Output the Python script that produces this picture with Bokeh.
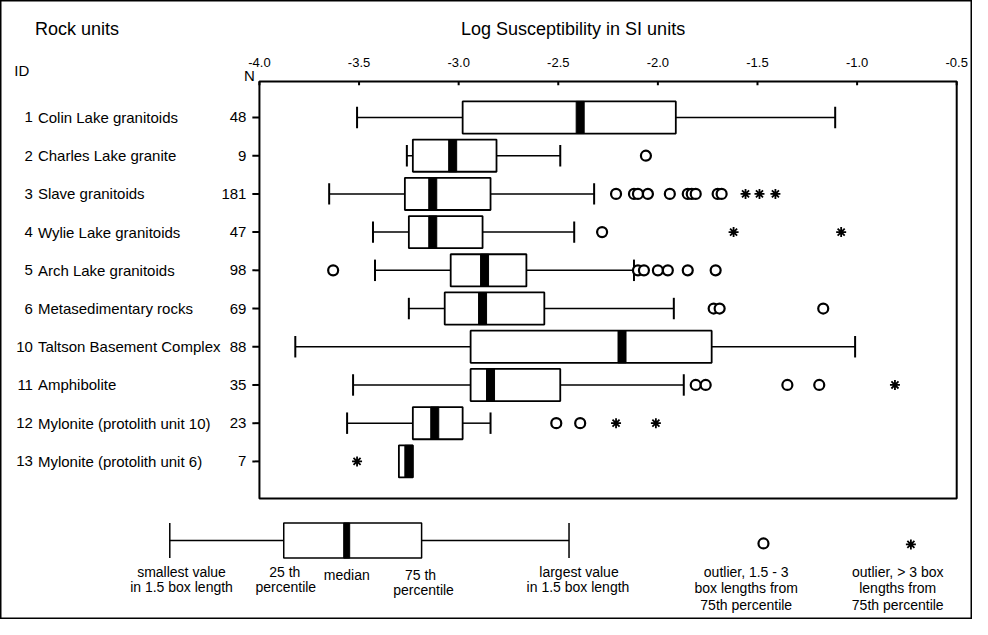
from bokeh.plotting import figure
from bokeh.models import Range1d
from bokeh.core.properties import value
from bokeh.embed import file_html
from bokeh.resources import INLINE

# ---------------- data ----------------
ids = ["1", "2", "3", "4", "5", "6", "10", "11", "12", "13"]
names = ["Colin Lake granitoids", "Charles Lake granite", "Slave granitoids",
         "Wylie Lake granitoids", "Arch Lake granitoids", "Metasedimentary rocks",
         "Taltson Basement Complex", "Amphibolite", "Mylonite (protolith unit 10)",
         "Mylonite (protolith unit 6)"]
n_counts = [48, 9, 181, 47, 98, 69, 88, 35, 23, 7]

whisk_lo = [-3.51, -3.26, -3.65, -3.43, -3.42, -3.25, -3.82, -3.53, -3.56, -3.30]
q1       = [-2.98, -3.23, -3.27, -3.25, -3.04, -3.07, -2.94, -2.94, -3.23, -3.30]
median   = [-2.39, -3.03, -3.13, -3.13, -2.87, -2.88, -2.18, -2.84, -3.12, -3.25]
q3       = [-1.91, -2.81, -2.84, -2.88, -2.66, -2.57, -1.73, -2.49, -2.98, -3.23]
whisk_hi = [-1.11, -2.49, -2.32, -2.42, -2.12, -1.92, -1.01, -1.87, -2.84, -3.23]

# outliers 1.5 - 3 box lengths (circles): row index, value
mild_row = [1,
            2, 2, 2, 2, 2, 2, 2, 2, 2, 2,
            3,
            4, 4, 4, 4, 4, 4, 4,
            5, 5, 5,
            7, 7, 7, 7,
            8, 8]
mild_val = [-2.06,
            -2.21, -2.12, -2.10, -2.05, -1.94, -1.85, -1.83, -1.81, -1.70, -1.68,
            -2.28,
            -3.63, -2.10, -2.07, -2.00, -1.95, -1.85, -1.71,
            -1.72, -1.69, -1.17,
            -1.81, -1.76, -1.35, -1.19,
            -2.51, -2.39]
# outliers > 3 box lengths (stars)
ext_row = [2, 2, 2, 3, 3, 7, 8, 8, 9]
ext_val = [-1.56, -1.49, -1.41, -1.62, -1.08, -0.81, -2.21, -2.01, -3.51]

x_ticks = [-4.0, -3.5, -3.0, -2.5, -2.0, -1.5, -1.0, -0.5]
x_tick_labels = ["-4.0", "-3.5", "-3.0", "-2.5", "-2.0", "-1.5", "-1.0", "-0.5"]

# legend key (schematic box, in axis units)
key_stats = [-4.45, -3.878, -3.562, -3.186, -2.446]   # lo, q1, median, q3, hi
key_mild = [-1.47]
key_ext = [-0.73]

# ---------------- layout helpers (reference pixels -> data) ----------------
REF_W, REF_H = 988, 635
PXU = 202.5      # reference pixels per log unit
X0 = 263.2       # reference x of -4.0
ROW0 = 120.0     # reference y of first row
ROWPX = 39.2     # reference pixels per row


def X(px):
    return -4.0 + (px - X0) / PXU


def Y(py):
    return (py - ROW0) / ROWPX


W, H = 972, 619
SY = H / REF_H
p = figure(width=W, height=H, output_backend="svg", toolbar_location=None,
           x_range=Range1d(X(0), X(REF_W)), y_range=Range1d(Y(REF_H), Y(0)),
           x_axis_location=None, y_axis_location=None, min_border=0)
p.grid.visible = False
p.outline_line_color = "black"
p.outline_line_width = 2
p.background_fill_color = "white"
p.border_fill_color = "white"

FONT = value("Liberation Sans")
rows = list(range(len(ids)))
BH = 16.5 / ROWPX   # half box height
CH = 11 / ROWPX     # half cap height

# plot frame
top_y, bot_y = Y(83), Y(511)
p.quad(left=[x_ticks[0]], right=[x_ticks[-1]], top=[top_y], bottom=[bot_y],
       fill_color=None, line_color="black", line_width=2)

# top axis ticks and labels
p.segment(x0=x_ticks, y0=[top_y] * len(x_ticks), x1=x_ticks,
          y1=[top_y + 4 / ROWPX] * len(x_ticks), line_color="black", line_width=2)
p.text(x=x_ticks, y=[Y(68)] * len(x_ticks), text=x_tick_labels, text_font=FONT,
       text_font_size="13px", text_align="center", text_baseline="bottom", text_color="black")

# left ticks + N
p.segment(x0=[X(256)] * len(rows), y0=rows, x1=[x_ticks[0]] * len(rows), y1=rows,
          line_color="black", line_width=2)
p.text(x=[X(250)] * len(rows), y=rows, text=[str(v) for v in n_counts], text_font=FONT,
       text_font_size="15px", text_align="right", text_baseline="middle", text_color="black")

# row labels
p.text(x=[X(33)] * len(rows), y=rows, text=ids, text_font=FONT, text_font_size="15px",
       text_align="right", text_baseline="middle", text_color="black")
p.text(x=[X(38)] * len(rows), y=rows, text=names, text_font=FONT, text_font_size="15px",
       text_align="left", text_baseline="middle", text_color="black")

# headings
p.text(x=[X(35)], y=[Y(29)], text=["Rock units"], text_font=FONT, text_font_size="18px",
       text_align="left", text_baseline="middle", text_color="black")
p.text(x=[X(582)], y=[Y(29)], text=["Log Susceptibility in SI units"], text_font=FONT,
       text_font_size="18px", text_align="center", text_baseline="middle", text_color="black")
p.text(x=[X(14)], y=[Y(72)], text=["ID"], text_font=FONT, text_font_size="15px",
       text_align="left", text_baseline="middle", text_color="black")
p.text(x=[X(253)], y=[Y(77)], text=["N"], text_font=FONT, text_font_size="15px",
       text_align="center", text_baseline="middle", text_color="black")

# whiskers
wr = [i for i in rows if whisk_lo[i] < q1[i]]
hr = [i for i in rows if whisk_hi[i] > q3[i]]
p.segment(x0=[whisk_lo[i] for i in wr], y0=wr, x1=[q1[i] for i in wr], y1=wr,
          line_color="black", line_width=1.5)
p.segment(x0=[whisk_lo[i] for i in wr], y0=[i - CH for i in wr],
          x1=[whisk_lo[i] for i in wr], y1=[i + CH for i in wr], line_color="black", line_width=2)
p.segment(x0=[q3[i] for i in hr], y0=hr, x1=[whisk_hi[i] for i in hr], y1=hr,
          line_color="black", line_width=1.5)
p.segment(x0=[whisk_hi[i] for i in hr], y0=[i - CH for i in hr],
          x1=[whisk_hi[i] for i in hr], y1=[i + CH for i in hr], line_color="black", line_width=2)

# boxes
p.quad(left=q1, right=q3, top=[i - BH for i in rows], bottom=[i + BH for i in rows],
       fill_color="white", line_color="black", line_width=1.8)
p.rect(x=median, y=rows, width=8, width_units="screen", height=2 * BH,
       fill_color="black", line_color="black", line_width=1)

# outliers
p.scatter(x=mild_val, y=mild_row, marker="circle", size=10, fill_color="white",
          line_color="black", line_width=2.2)
p.scatter(x=ext_val, y=ext_row, marker="asterisk", size=10, line_color="black", line_width=1.8)

# ---------------- legend key ----------------
ky = Y(554)
kh = 18 / ROWPX
lo, kq1, kmed, kq3, hi = key_stats
p.segment(x0=[lo, kq3], y0=[ky, ky], x1=[kq1, hi], y1=[ky, ky], line_color="black", line_width=1.5)
p.segment(x0=[lo, hi], y0=[ky - kh, ky - kh], x1=[lo, hi], y1=[ky + kh, ky + kh],
          line_color="black", line_width=1.5)
p.quad(left=[kq1], right=[kq3], top=[ky - kh], bottom=[ky + kh], fill_color="white",
       line_color="black", line_width=1.5)
p.rect(x=[kmed], y=[ky], width=6, width_units="screen", height=2 * kh, fill_color="black",
       line_color="black")
p.scatter(x=key_mild, y=[Y(557)], marker="circle", size=10, fill_color="white",
          line_color="black", line_width=2.2)
p.scatter(x=key_ext, y=[Y(558)], marker="asterisk", size=10, line_color="black",
          line_width=1.8)

legend_texts = [
    (184, 586, "smallest value"), (184, 602, "in 1.5 box length"),
    (289, 586, "25 th"), (290, 602, "percentile"),
    (352, 589, "median"),
    (427, 589, "75 th"), (430, 605, "percentile"),
    (588, 586, "largest value"), (587, 602, "in 1.5 box length"),
    (758, 586, "outlier, 1.5 - 3"), (758, 603, "box lengths from"), (758, 620, "75th percentile"),
    (912, 586, "outlier, > 3 box"), (912, 603, "lengths from"), (912, 620, "75th percentile"),
]
p.text(x=[X(a) for a, b, c in legend_texts], y=[Y(b) for a, b, c in legend_texts],
       text=[c for a, b, c in legend_texts], text_font=FONT, text_font_size="14px",
       text_align="center", text_baseline="middle", text_color="black")

open("out.html", "w").write(file_html(p, INLINE))
